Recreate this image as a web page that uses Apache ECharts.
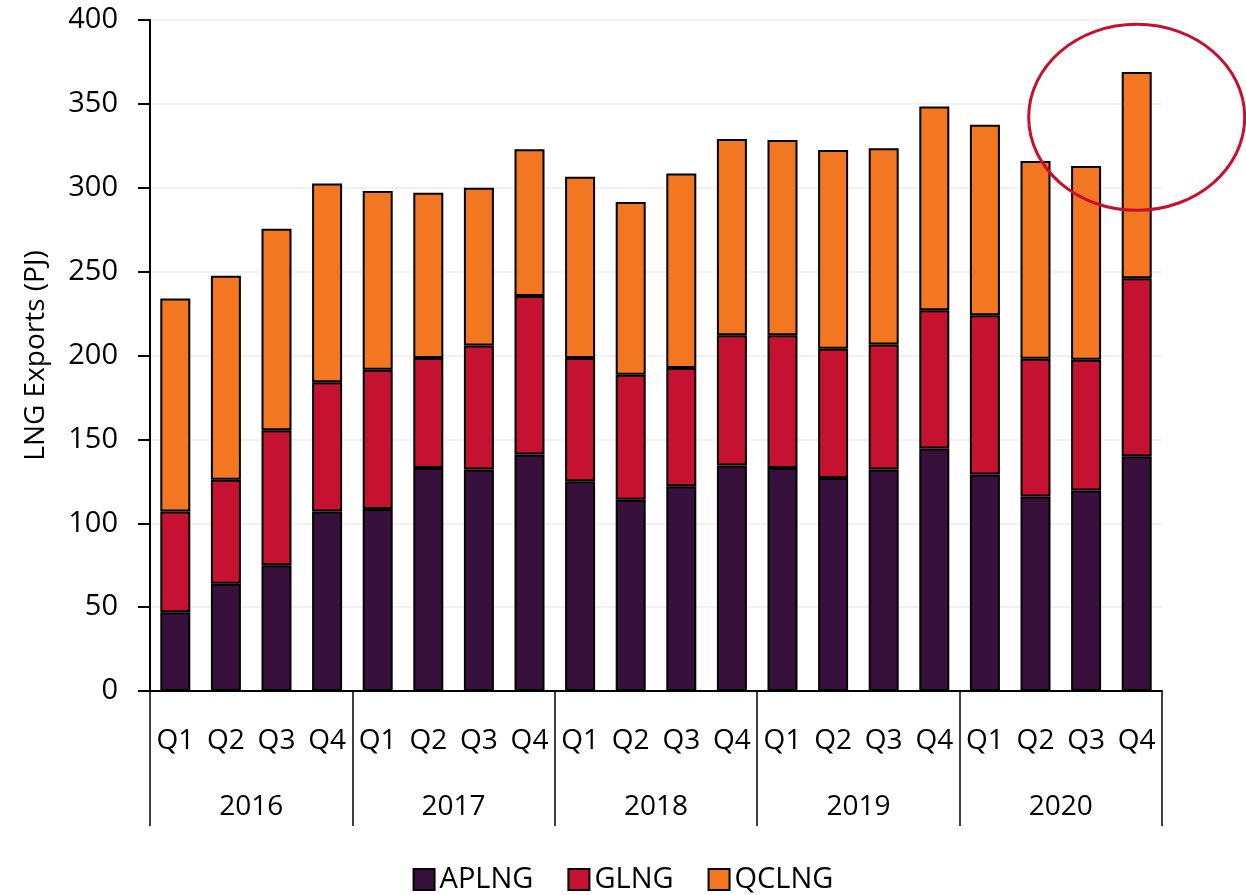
<!DOCTYPE html>
<html>
<head>
<meta charset="utf-8">
<script src="https://cdn.jsdelivr.net/npm/echarts@6/dist/echarts.min.js"></script>
<style>
  html, body { margin: 0; padding: 0; background: #fff; }
  #chart { width: 1246px; height: 895px; }
</style>
</head>
<body>
<div id="chart"></div>
<script>
// quarterly LNG exports, PJ
var years = ['2016', '2017', '2018', '2019', '2020'];
var quarters = ['Q1', 'Q2', 'Q3', 'Q4'];
var yTicks = [0, 50, 100, 150, 200, 250, 300, 350, 400];

var aplng = [47, 64, 75, 107, 108.5, 133, 132, 141, 125, 114, 122, 134.5, 133, 127, 132, 144.5, 129, 116, 119.5, 140];
var glng = [60, 62, 80.5, 77, 83, 65.5, 74, 94.5, 73.5, 74.5, 70.5, 77.5, 79, 77, 74.5, 82.5, 95, 82, 78, 106];
var qclng = [127, 121.5, 120, 118.5, 106.5, 98.5, 94, 87.5, 108, 103, 116, 117, 116.5, 118.5, 117, 121.5, 113.5, 118, 115.5, 123];

// highlight ring around last quarter
var highlightCat = '2020 Q4';
var highlightValue = 342;

var categories = [];
years.forEach(function (y) {
  quarters.forEach(function (q) {
    categories.push(y + ' ' + q);
  });
});

var font = '"Open Sans", "Noto Sans", sans-serif';
var chart = echarts.init(document.getElementById('chart'));

function barSeries (name, data, color) {
  return {
    name: name,
    type: 'bar',
    stack: 'total',
    barWidth: 30,
    data: data,
    itemStyle: {
      color: color,
      borderColor: '#000',
      borderWidth: 2
    }
  };
}

var option = {
  animation: false,
  backgroundColor: '#fff',
  textStyle: { fontFamily: font },
  grid: {
    left: 150,
    top: 20,
    right: 84,
    bottom: 204
  },
  legend: {
    bottom: -4,
    left: 'center',
    icon: 'rect',
    itemWidth: 21,
    itemHeight: 21,
    itemGap: 34,
    textStyle: { fontFamily: font, fontSize: 29, color: '#000' },
    data: ['APLNG', 'GLNG', 'QCLNG']
  },
  xAxis: [
    {
      type: 'category',
      data: categories,
      axisLine: { lineStyle: { color: '#000', width: 2 } },
      axisTick: { show: false },
      axisLabel: {
        interval: 0,
        margin: 36,
        fontSize: 28,
        color: '#000',
        fontFamily: font,
        formatter: function (v) { return v.split(' ')[1]; }
      }
    },
    {
      type: 'category',
      data: years,
      position: 'bottom',
      axisLine: { show: false },
      axisTick: {
        show: true,
        length: 135,
        lineStyle: { color: '#000', width: 1.5 }
      },
      axisLabel: {
        margin: 102,
        fontSize: 28,
        color: '#000',
        fontFamily: font
      }
    }
  ],
  yAxis: {
    type: 'value',
    min: yTicks[0],
    max: yTicks[yTicks.length - 1],
    interval: 50,
    name: 'LNG Exports (PJ)',
    nameLocation: 'middle',
    nameGap: 100,
    nameTextStyle: { fontSize: 28, color: '#000', fontFamily: font },
    axisLine: { show: true, lineStyle: { color: '#000', width: 2 } },
    axisTick: { show: true, length: 12, lineStyle: { color: '#000', width: 2 } },
    axisLabel: { margin: 32, fontSize: 29, color: '#000', fontFamily: font },
    splitLine: { show: true, lineStyle: { color: '#eeeeee', width: 1.5 } }
  },
  series: [
    barSeries('APLNG', aplng, '#37103b'),
    barSeries('GLNG', glng, '#c41230'),
    barSeries('QCLNG', qclng, '#f37721')
  ]
};

chart.setOption(option);

// ellipse annotation placed from the axis scales
var c = chart.convertToPixel({ xAxisIndex: 0, yAxisIndex: 0 }, [highlightCat, highlightValue]);
chart.setOption({
  graphic: [{
    type: 'ellipse',
    z: 100,
    shape: { cx: c[0], cy: c[1], rx: 108, ry: 93 },
    style: { fill: null, stroke: '#c8102e', lineWidth: 3 }
  }]
});
</script>
</body>
</html>
